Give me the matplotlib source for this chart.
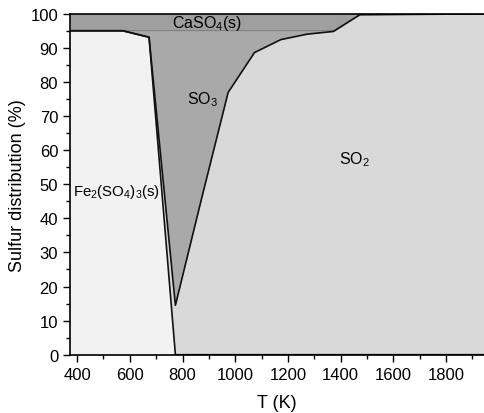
import numpy as np
import matplotlib.pyplot as plt

plt.rcParams['font.family'] = ['Liberation Sans', 'DejaVu Sans']
plt.rcParams['mathtext.fontset'] = 'custom'
plt.rcParams['mathtext.rm'] = 'Liberation Sans'
plt.rcParams['mathtext.it'] = 'Liberation Sans'

# temperature points (K)
T = np.array([373, 473, 573, 673, 773, 873, 973, 1073, 1173, 1273, 1373,
              1473, 1573, 1673, 1773, 1873, 1973])
# sulfur distribution per species (%)
fe2so43 = np.array([95, 95, 95, 93.1, 0, 0, 0, 0, 0, 0, 0,
                    0, 0, 0, 0, 0, 0])
so2 = np.array([0, 0, 0, 0, 14.5, 46.0, 76.9, 88.6, 92.4, 94.0, 94.8,
                99.7, 99.75, 99.8, 99.85, 99.9, 99.95])
so3 = np.array([0, 0, 0, 1.9, 80.5, 49.0, 18.1, 6.4, 2.6, 1.0, 0.2,
                0, 0, 0, 0, 0, 0])
caso4 = np.array([5, 5, 5, 5, 5, 5, 5, 5, 5, 5, 5,
                  0.3, 0.25, 0.2, 0.15, 0.1, 0.05])

c1 = fe2so43
c2 = c1 + so2
c3 = c2 + so3
c4 = c3 + caso4

fig = plt.figure(figsize=(4.84, 4.14), dpi=100)
ax = fig.add_axes([0.1446, 0.1408, 0.8554, 0.8237])

ax.fill_between(T, 0, c1, color='#f2f2f2', lw=0)
ax.fill_between(T, c1, c2, color='#d9d9d9', lw=0)
ax.fill_between(T, c2, c3, color='#a9a9a9', lw=0)
ax.fill_between(T, c3, c4, color='#9f9f9f', lw=0)

ax.plot(T, c3, color='#7a7a7a', lw=0.8)
ax.plot(T, c1, color='#111111', lw=1.2)
ax.plot(T, c2, color='#111111', lw=1.2)

ax.text(759, 97.4, 'CaSO$_4$(s)', fontsize=11.5, ha='left', va='center')
ax.text(816, 75, 'SO$_3$', fontsize=11.5, ha='left', va='center')
ax.text(1392, 57.6, 'SO$_2$', fontsize=11.5, ha='left', va='center')
ax.text(384, 48, 'Fe$_2$(SO$_4$)$_3$(s)', fontsize=10.8, ha='left', va='center')

ax.set_xlim(373, 1944)
ax.set_ylim(0, 100)
ax.set_xticks(np.arange(400, 1801, 200))
ax.set_xticks(np.arange(500, 1901, 200), minor=True)
ax.set_yticks(np.arange(0, 101, 10))
ax.set_yticks(np.arange(5, 100, 10), minor=True)
ax.tick_params(which='major', direction='out', length=5, width=1, labelsize=12)
ax.tick_params(which='minor', direction='out', length=3, width=1)
ax.spines['right'].set_visible(False)
for s in ['left', 'bottom', 'top']:
    ax.spines[s].set_linewidth(1.2)

ax.set_xlabel('T (K)', fontsize=13, labelpad=9)
ax.set_ylabel('Sulfur distribution (%)', fontsize=13, labelpad=3)

fig.savefig('out.png', dpi=100)
